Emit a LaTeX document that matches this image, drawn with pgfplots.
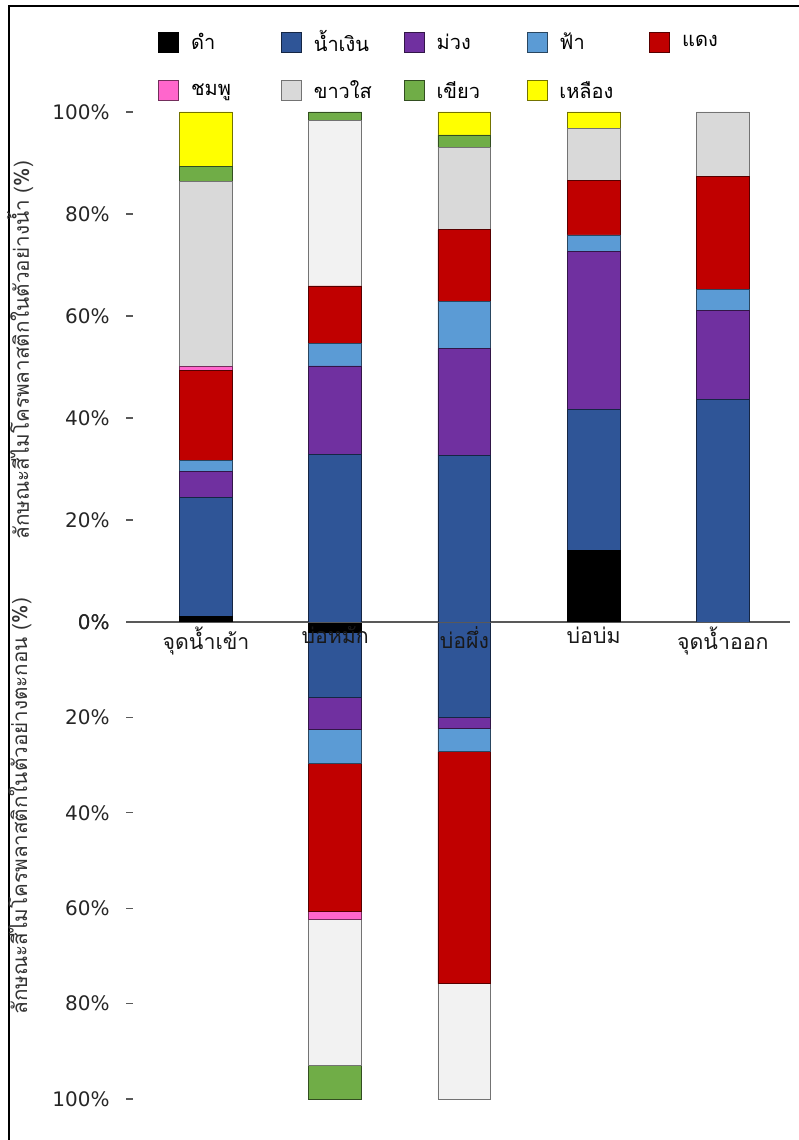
\documentclass[border=0pt]{standalone}
\usepackage{fontspec}
\setmainfont{DejaVu Sans}
\newfontfamily\thai[Script=Thai]{Loma}
\usepackage{pgfplots}
\pgfplotsset{compat=1.18}

\definecolor{cBlack}{HTML}{000000}
\definecolor{cBlue}{HTML}{2F5597}
\definecolor{cPurple}{HTML}{7030A0}
\definecolor{cSky}{HTML}{5B9BD5}
\definecolor{cRed}{HTML}{C00000}
\definecolor{cPink}{HTML}{FF66CC}
\definecolor{cGray}{HTML}{D9D9D9}
\definecolor{cClear}{HTML}{F2F2F2}
\definecolor{cGreen}{HTML}{70AD47}
\definecolor{cYellow}{HTML}{FFFF00}

\pgfplotsset{
  seg/.style={fill=#1, draw=#1!45!black, line width=0.6pt},
  panel/.style={
    scale only axis, width=492.75pt,
    xmin=-0.565, xmax=4.52, ymin=0, ymax=100,
    ybar stacked, bar width=0.41,
    axis y line*=left, axis x line*=bottom,
    y axis line style={draw=none},
    axis line style={black!65, line width=0.8pt, -},
    ytick={0,20,...,100},
    yticklabel={\pgfmathprintnumber{\tick}\%},
    /pgf/number format/assume math mode=true,
    yticklabel style={font=\fontsize{15}{17}\selectfont, black!85, xshift=-9pt},
    major y tick style={black!65, line width=0.8pt},
    major x tick style={draw=none},
    tick align=outside, major tick length=5pt,
    ylabel style={font=\thai\fontsize{15.5}{18}\selectfont, black!80, anchor=center},
  },
}

\begin{document}
\begin{tikzpicture}
\useasboundingbox (0,0) rectangle (599.25pt,855pt);
\draw[black, line width=1.3pt] (6.75pt,0pt) -- (6.75pt,850.5pt) -- (599.25pt,850.5pt);

% sediment samples (lower panel, downward)
\begin{axis}[panel,
  at={(99.75pt,388.5pt)}, anchor=north west, height=357.75pt,
  y dir=reverse, xtick=\empty,
  x axis line style={draw=none},
  ylabel={ลักษณะสีไมโครพลาสติกในตัวอย่างตะกอน (\%)},
  ylabel style={at={(axis description cs:-0.172,0.614)}},
]
\addplot[seg=cBlack]  coordinates {(1,2.2) (2,0)};
\addplot[seg=cBlue]   coordinates {(1,13.7) (2,19.9)};
\addplot[seg=cPurple] coordinates {(1,6.7) (2,2.4)};
\addplot[seg=cSky]    coordinates {(1,7.0) (2,4.9)};
\addplot[seg=cRed]    coordinates {(1,31.0) (2,48.6)};
\addplot[seg=cPink]   coordinates {(1,1.8) (2,0)};
\addplot[seg=cClear, draw=black!55] coordinates {(1,30.6) (2,24.2)};
\addplot[seg=cGreen]  coordinates {(1,7.0) (2,0)};
\end{axis}

% water samples (upper panel)
\begin{axis}[panel,
  at={(99.75pt,388.5pt)}, anchor=south west, height=382.5pt,
  xtick={0,1,2,3,4},
  xticklabels={จุดน้ำเข้า, บ่อหมัก, บ่อผึ่ง, บ่อบ่ม, จุดน้ำออก},
  xticklabel style={font=\thai\fontsize{16}{18}\selectfont, black!90, yshift=5pt},
  ylabel={ลักษณะสีไมโครพลาสติกในตัวอย่างน้ำ (\%)},
  ylabel style={at={(axis description cs:-0.172,0.533)}},
  legend columns=5,
  legend image code/.code={\draw[#1] (0pt,-7.5pt) rectangle (15pt,7.5pt);},
  legend style={at={(axis description cs:0.038,1.165)}, anchor=north west,
    draw=none, fill=none, font=\thai\fontsize{15}{17}\selectfont,
    row sep=16pt, inner sep=0pt, cells={anchor=west}},
]
\addplot[seg=cBlack]  coordinates {(0,1.0) (1,0) (2,0) (3,14.0) (4,0)};
\addplot[seg=cBlue]   coordinates {(0,23.5) (1,32.8) (2,32.7) (3,27.6) (4,43.7)};
\addplot[seg=cPurple] coordinates {(0,5.0) (1,17.4) (2,20.9) (3,31.0) (4,17.3)};
\addplot[seg=cSky]    coordinates {(0,2.1) (1,4.5) (2,9.2) (3,3.3) (4,4.2)};
\addplot[seg=cRed]    coordinates {(0,17.7) (1,11.2) (2,14.1) (3,10.6) (4,22.1)};
\addplot[seg=cPink]   coordinates {(0,0.8) (1,0) (2,0) (3,0) (4,0)};
\addplot[seg=cGray, draw=black!55] coordinates {(0,36.3) (1,0) (2,16.2) (3,10.3) (4,12.7)};
\addplot[seg=cClear, draw=black!55, forget plot] coordinates {(0,0) (1,32.4) (2,0) (3,0) (4,0)};
\addplot[seg=cGreen]  coordinates {(0,3.0) (1,1.7) (2,2.4) (3,0) (4,0)};
\addplot[seg=cYellow] coordinates {(0,10.6) (1,0) (2,4.5) (3,3.2) (4,0)};
\addlegendentry{\makebox[72.5pt][l]{\hspace{7pt}ดำ}}
\addlegendentry{\makebox[72.5pt][l]{\hspace{7pt}น้ำเงิน}}
\addlegendentry{\makebox[72.5pt][l]{\hspace{7pt}ม่วง}}
\addlegendentry{\makebox[72.5pt][l]{\hspace{7pt}ฟ้า}}
\addlegendentry{\makebox[72.5pt][l]{\hspace{7pt}แดง}}
\addlegendentry{\makebox[72.5pt][l]{\hspace{7pt}ชมพู}}
\addlegendentry{\makebox[72.5pt][l]{\hspace{7pt}ขาวใส}}
\addlegendentry{\makebox[72.5pt][l]{\hspace{7pt}เขียว}}
\addlegendentry{\makebox[72.5pt][l]{\hspace{7pt}เหลือง}}
\end{axis}
\end{tikzpicture}
\end{document}
